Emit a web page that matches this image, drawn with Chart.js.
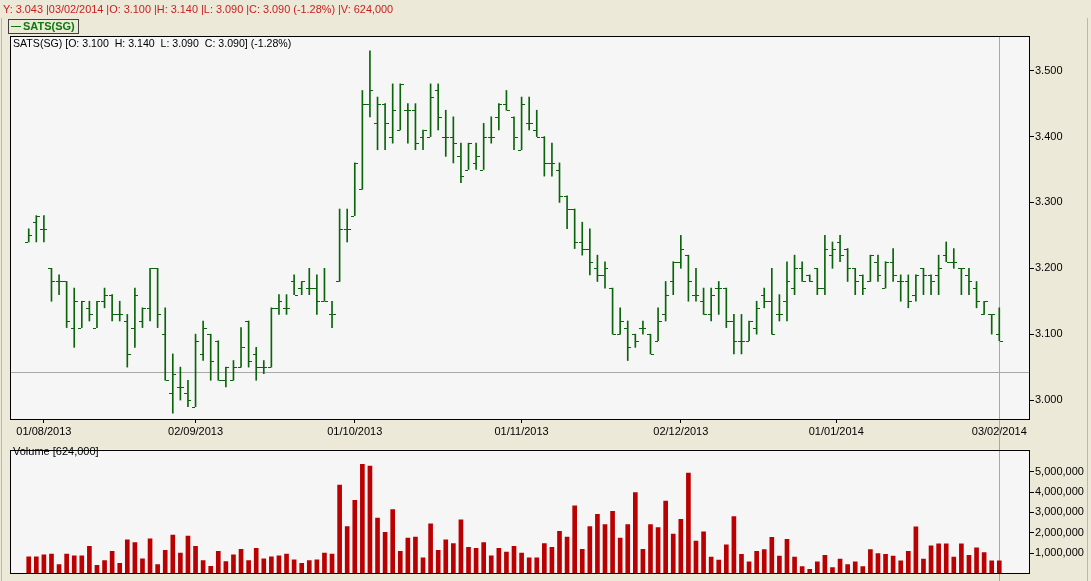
<!DOCTYPE html>
<html><head><meta charset="utf-8">
<script src="https://cdn.jsdelivr.net/npm/chart.js@4.4.0/dist/chart.umd.min.js"></script>
<style>
html,body{margin:0;padding:0;background:#ECE9D8;width:1091px;height:581px;overflow:hidden;font-family:"Liberation Sans",Arial,sans-serif;}
#wrap{position:relative;width:1091px;height:581px;}
canvas{position:absolute;left:0;}
#c1{top:0;z-index:1;}
#c2{top:442px;z-index:1;}
.txt{position:absolute;font-size:11px;white-space:pre;line-height:13px;z-index:2;}
#hdr{left:3px;top:3px;color:#C81E1E;font-size:10.9px;}
#leg{left:8px;top:19px;width:71px;height:15px;border:1px solid #404040;box-sizing:border-box;z-index:2;position:absolute;}
#leg span{position:absolute;left:14px;top:0px;font-size:11px;font-weight:bold;color:#0A7A0A;line-height:13px;}
#leg i{position:absolute;left:2px;top:6px;width:10px;height:1px;background:#0A7A0A;}
#plab{left:13px;top:37px;color:#000;font-size:10.6px;}
#vlab{left:13px;top:445px;color:#000;}
.edge{position:absolute;top:18px;bottom:0;width:1px;background:#B8B8B0;z-index:0;}
</style></head>
<body><div id="wrap">
<div class="edge" style="left:1px"></div>
<div class="edge" style="left:1087px"></div>
<div id="hdr" class="txt">Y: 3.043 |03/02/2014 |O: 3.100 |H: 3.140 |L: 3.090 |C: 3.090 (-1.28%) |V: 624,000</div>
<div id="leg"><i></i><span>SATS(SG)</span></div>
<div id="plab" class="txt">SATS(SG) [O: 3.100  H: 3.140  L: 3.090  C: 3.090] (-1.28%)</div>
<div id="vlab" class="txt">Volume [624,000]</div>
<canvas id="c1" width="1091" height="442"></canvas>
<canvas id="c2" width="1091" height="139"></canvas>
</div>
<script>
// ---- data (one entry per trading day, 30/07/2013 .. 03/02/2014) ----
const openP = [
3.24,3.27,3.26,3.20,3.18,3.18,3.11,3.11,3.14,3.11,
3.15,3.16,3.13,3.12,3.11,3.12,3.14,3.20,3.10,3.01,
3.02,3.01,2.99,3.07,3.10,3.09,3.03,3.03,3.05,3.12,
3.07,3.05,3.05,3.14,3.14,3.18,3.17,3.17,3.17,3.15,
3.13,3.18,3.26,3.28,3.32,3.45,3.42,3.45,3.40,3.41,
3.44,3.44,3.40,3.40,3.47,3.40,3.40,3.37,3.35,3.36,
3.35,3.40,3.43,3.45,3.43,3.38,3.42,3.41,3.40,3.36,
3.35,3.31,3.29,3.24,3.23,3.20,3.19,3.17,3.10,3.11,
3.10,3.11,3.10,3.09,3.13,3.18,3.21,3.22,3.16,3.15,
3.13,3.17,3.17,3.12,3.09,3.09,3.11,3.16,3.15,3.13,
3.15,3.17,3.20,3.19,3.20,3.17,3.22,3.24,3.23,3.20,
3.19,3.18,3.21,3.17,3.21,3.18,3.18,3.16,3.20,3.19,
3.19,3.22,3.21,3.20,3.19,3.17,3.13,3.13,3.10];
const highP = [
3.26,3.28,3.28,3.20,3.19,3.18,3.17,3.15,3.15,3.15,
3.17,3.16,3.15,3.13,3.17,3.14,3.20,3.20,3.14,3.07,
3.05,3.03,3.10,3.12,3.10,3.09,3.05,3.06,3.11,3.12,
3.08,3.06,3.14,3.16,3.16,3.19,3.18,3.20,3.19,3.20,
3.15,3.29,3.29,3.36,3.47,3.53,3.46,3.45,3.48,3.48,
3.45,3.45,3.41,3.48,3.48,3.44,3.43,3.39,3.39,3.39,
3.42,3.43,3.45,3.47,3.43,3.46,3.46,3.44,3.40,3.39,
3.36,3.31,3.29,3.27,3.26,3.22,3.21,3.17,3.14,3.12,
3.10,3.12,3.10,3.14,3.18,3.21,3.25,3.22,3.20,3.17,
3.17,3.18,3.17,3.13,3.13,3.12,3.15,3.17,3.20,3.16,
3.21,3.22,3.21,3.19,3.20,3.25,3.24,3.25,3.23,3.20,
3.19,3.22,3.22,3.21,3.23,3.19,3.19,3.19,3.20,3.19,
3.22,3.24,3.23,3.20,3.20,3.18,3.15,3.13,3.14];
const lowP = [
3.24,3.24,3.24,3.15,3.16,3.11,3.08,3.11,3.12,3.11,
3.14,3.12,3.12,3.05,3.08,3.11,3.12,3.11,3.03,2.98,
3.00,2.99,2.99,3.06,3.03,3.03,3.02,3.03,3.05,3.05,
3.03,3.04,3.05,3.13,3.13,3.16,3.16,3.16,3.13,3.15,
3.11,3.18,3.24,3.28,3.32,3.43,3.38,3.38,3.39,3.41,
3.39,3.38,3.38,3.40,3.41,3.37,3.36,3.33,3.35,3.35,
3.35,3.39,3.41,3.44,3.38,3.38,3.41,3.40,3.34,3.34,
3.30,3.26,3.23,3.22,3.19,3.18,3.17,3.10,3.10,3.06,
3.08,3.10,3.07,3.09,3.12,3.16,3.20,3.15,3.15,3.13,
3.12,3.13,3.11,3.07,3.07,3.09,3.10,3.14,3.10,3.12,
3.12,3.16,3.18,3.18,3.16,3.16,3.20,3.21,3.18,3.16,
3.16,3.18,3.18,3.17,3.18,3.15,3.14,3.15,3.16,3.16,
3.16,3.21,3.20,3.16,3.16,3.14,3.13,3.10,3.09];
const closeP = [
3.25,3.28,3.26,3.18,3.18,3.12,3.15,3.15,3.13,3.15,
3.16,3.13,3.13,3.07,3.16,3.14,3.20,3.13,3.03,3.04,
3.02,3.00,3.09,3.11,3.06,3.03,3.05,3.05,3.08,3.06,
3.05,3.05,3.14,3.15,3.14,3.16,3.18,3.17,3.15,3.15,
3.13,3.26,3.26,3.36,3.45,3.47,3.45,3.42,3.44,3.48,
3.44,3.39,3.41,3.46,3.43,3.40,3.39,3.34,3.39,3.37,
3.40,3.40,3.45,3.44,3.40,3.45,3.42,3.40,3.36,3.36,
3.31,3.29,3.24,3.23,3.21,3.19,3.20,3.10,3.12,3.08,
3.09,3.11,3.07,3.12,3.16,3.21,3.23,3.18,3.16,3.13,
3.16,3.17,3.12,3.09,3.09,3.12,3.14,3.15,3.10,3.13,
3.18,3.20,3.18,3.18,3.17,3.23,3.23,3.22,3.20,3.18,
3.17,3.22,3.19,3.21,3.19,3.18,3.15,3.19,3.19,3.18,
3.20,3.21,3.21,3.20,3.18,3.15,3.15,3.13,3.09];
const volume = [
810000,810000,910000,950000,440000,950000,860000,860000,1330000,400000,
630000,1090000,490000,1650000,1510000,720000,1700000,440000,1140000,1880000,
1000000,1840000,1330000,630000,350000,1090000,580000,910000,1190000,630000,
1230000,720000,810000,860000,950000,670000,490000,630000,670000,1000000,
950000,4350000,2300000,3600000,5370000,5280000,2720000,2020000,3140000,1090000,
1740000,1790000,770000,2440000,1140000,1650000,1470000,2630000,1280000,1230000,
1510000,860000,1230000,1050000,1330000,1000000,770000,770000,1470000,1280000,
2070000,1790000,3330000,1190000,2300000,2910000,2400000,3050000,1740000,2400000,
3980000,1190000,2400000,2260000,3560000,1930000,2660000,4940000,1590000,2050000,
800000,660000,1400000,2800000,940000,570000,1080000,1170000,1780000,850000,
1680000,800000,340000,200000,570000,890000,290000,710000,430000,570000,
340000,1170000,980000,940000,850000,620000,1080000,2290000,710000,1360000,
1450000,1450000,800000,1450000,890000,1260000,1030000,620000,624000];
const dateTickIndex = [2, 22, 43, 65, 86, 106.5, 128];
const dateTickLabels = ['01/08/2013','02/09/2013','01/10/2013','01/11/2013','02/12/2013','01/01/2014','03/02/2014'];
const priceTicks = [3.0, 3.1, 3.2, 3.3, 3.4, 3.5];
const volumeTicks = [1000000, 2000000, 3000000, 4000000, 5000000];
const cursorIndex = 128;
const cursorPrice = 3.043;

// ---- style ----
const GREEN = '#0B640B';
const VOLRED = '#BA0000';
const FONT = {family:'"Liberation Sans", Arial, sans-serif', size:11};
const X_MIN = -2.47, X_MAX = 132.05;

const panelPlugin = {
  id:'panel',
  beforeDraw(chart){
    const {ctx, chartArea:a} = chart;
    ctx.save();
    ctx.fillStyle = '#F6F6F6';
    ctx.fillRect(a.left, a.top, a.right-a.left, a.bottom-a.top);
    ctx.restore();
  },
  beforeDatasetsDraw(chart, args, opts){
    const {ctx, chartArea:a} = chart;
    const xs = chart.scales.x;
    ctx.save();
    ctx.strokeStyle = '#A8A8A8';
    ctx.lineWidth = 1;
    const cx = Math.floor(xs.getPixelForValue(cursorIndex)) + 0.5;
    ctx.beginPath();
    ctx.moveTo(cx, opts.vTop === 'area' ? a.top : 0);
    ctx.lineTo(cx, chart.height);
    if (opts.hLine) {
      const cy = Math.round(chart.scales.y.getPixelForValue(cursorPrice)) + 0.5;
      ctx.moveTo(a.left, cy); ctx.lineTo(a.right, cy);
    }
    ctx.stroke();
    ctx.restore();
  },
  afterDraw(chart){
    const {ctx, chartArea:a} = chart;
    ctx.save();
    ctx.strokeStyle = '#000';
    ctx.lineWidth = 1;
    ctx.strokeRect(Math.round(a.left)+0.5, Math.round(a.top)+0.5, Math.round(a.right-a.left)-1, Math.round(a.bottom-a.top)-1);
    ctx.restore();
  }
};

const ohlcTicks = {
  id:'ohlcTicks',
  afterDatasetsDraw(chart){
    const xs = chart.scales.x, ys = chart.scales.y, ctx = chart.ctx;
    ctx.save();
    ctx.strokeStyle = GREEN;
    ctx.lineWidth = 1;
    ctx.beginPath();
    for (let i = 0; i < openP.length; i++) {
      const col = Math.floor(xs.getPixelForValue(i));
      const yo = Math.round(ys.getPixelForValue(openP[i])) + 0.5;
      const yc = Math.round(ys.getPixelForValue(closeP[i])) + 0.5;
      ctx.moveTo(col - 3, yo); ctx.lineTo(col, yo);
      ctx.moveTo(col + 1, yc); ctx.lineTo(col + 4, yc);
    }
    ctx.stroke();
    ctx.restore();
  }
};

const xCommon = {
  type:'linear', min:X_MIN, max:X_MAX, offset:false,
  grid:{offset:false}
};

new Chart(document.getElementById('c1'), {
  type:'bar',
  data:{datasets:[{
    label:'SATS(SG)',
    data: highP.map((h, i) => ({x:i, y:[lowP[i], h]})),
    backgroundColor: GREEN,
    borderWidth:0,
    barThickness:1
  }]},
  options:{
    responsive:false, animation:false, devicePixelRatio:1,
    layout:{padding:{left:10, top:36, right:0, bottom:0}},
    plugins:{legend:{display:false}, tooltip:{enabled:false}, panel:{vTop:'area', hLine:true}},
    scales:{
      x:Object.assign({}, xCommon, {
        position:'bottom',
        afterBuildTicks:s => { s.ticks = dateTickIndex.map(v => ({value:v})); },
        afterFit:s => { s.height = 22; },
        grid:{offset:false, drawOnChartArea:false, drawTicks:true, tickLength:3, color:'#000'},
        border:{display:false},
        ticks:{autoSkip:false, maxRotation:0, color:'#000', font:FONT, padding:2,
               callback:(v, i) => dateTickLabels[i]}
      }),
      y:{
        type:'linear', position:'right', min:2.9697, max:3.5527, beginAtZero:false,
        afterBuildTicks:s => { s.ticks = priceTicks.map(v => ({value:v})); },
        afterFit:s => { s.width = 61; },
        grid:{drawOnChartArea:false, drawTicks:true, tickLength:4, color:'#000'},
        border:{display:false},
        ticks:{color:'#000', font:FONT, padding:1, callback:v => v.toFixed(3)}
      }
    }
  },
  plugins:[panelPlugin, ohlcTicks]
});

new Chart(document.getElementById('c2'), {
  type:'bar',
  data:{datasets:[{
    label:'Volume',
    data: volume.map((v, i) => ({x:i, y:v})),
    backgroundColor: VOLRED,
    borderWidth:0,
    barThickness:4
  }]},
  options:{
    responsive:false, animation:false, devicePixelRatio:1,
    layout:{padding:{left:10, top:1, right:0, bottom:6}},
    plugins:{legend:{display:false}, tooltip:{enabled:false}, panel:{vTop:'canvas', hLine:false}},
    scales:{
      x:Object.assign({}, xCommon, {display:false}),
      y:{
        type:'linear', position:'right', min:0, max:6090000,
        afterBuildTicks:s => { s.ticks = volumeTicks.map(v => ({value:v})); },
        afterFit:s => { s.width = 61; },
        grid:{drawOnChartArea:false, drawTicks:true, tickLength:4, color:'#000'},
        border:{display:false},
        ticks:{color:'#000', font:FONT, padding:1, callback:v => v.toLocaleString('en-US')}
      }
    }
  },
  plugins:[panelPlugin]
});
</script>
</body></html>
